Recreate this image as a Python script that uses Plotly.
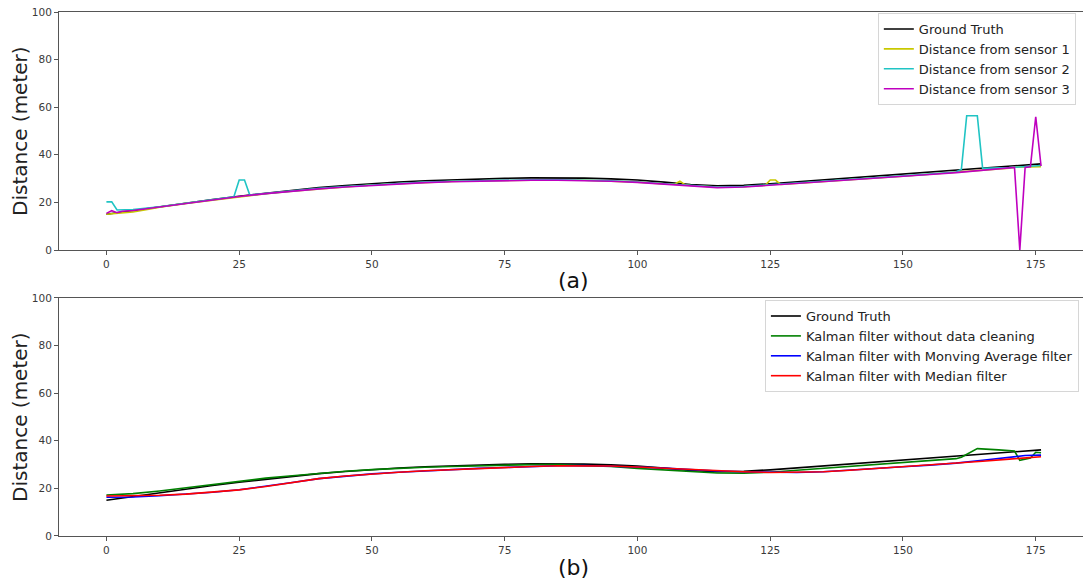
import plotly.graph_objects as go

# ---------------- data ----------------
gt_x = [0, 5, 10, 15, 20, 25, 30, 35, 40, 45, 50, 55, 60, 65, 70, 75, 80, 85, 90, 95,
        100, 105, 110, 115, 120, 125, 130, 135, 140, 145, 150, 155, 160, 165, 170, 176]
gt_y = [15.0, 16.6, 18.2, 19.8, 21.2, 22.6, 23.9, 25.1, 26.2, 27.1, 27.9, 28.6, 29.1, 29.5,
        29.9, 30.1, 30.3, 30.3, 30.2, 29.9, 29.4, 28.5, 27.5, 27.0, 27.2, 27.8, 28.6, 29.4,
        30.2, 31.0, 31.8, 32.6, 33.5, 34.3, 35.2, 36.2]

s1_x = [0, 2, 5, 8, 10, 15, 20, 25, 30, 35, 40, 45, 50, 55, 60, 65, 70, 75, 80, 85, 90,
        95, 100, 105, 107, 108, 109, 110, 115, 120, 124, 125, 126, 127, 130, 135, 140, 145,
        150, 155, 160, 165, 170, 171, 176]
s1_y = [15.0, 15.4, 16.0, 17.1, 18.0, 19.6, 21.0, 22.4, 23.6, 24.7, 25.7, 26.5, 27.3, 27.9,
        28.4, 28.8, 29.1, 29.3, 29.4, 29.4, 29.3, 29.0, 28.5, 27.8, 27.6, 28.9, 27.4, 27.1,
        26.4, 26.6, 27.1, 29.4, 29.4, 27.5, 28.0, 28.8, 29.5, 30.3, 31.0, 31.8, 32.7, 33.5,
        34.4, 34.8, 35.0]

s2_x = [0, 1, 2, 5, 10, 15, 20, 24, 25, 26, 27, 30, 35, 40, 45, 50, 55, 60, 65, 70, 75,
        80, 85, 90, 95, 100, 105, 110, 115, 120, 125, 130, 135, 140, 145, 150, 155, 160,
        161, 162, 164, 165, 170, 176]
s2_y = [20.2, 20.2, 16.8, 17.0, 18.2, 19.8, 21.2, 22.4, 29.4, 29.4, 23.1, 23.8, 24.9, 25.9,
        26.7, 27.4, 28.0, 28.5, 28.9, 29.2, 29.4, 29.5, 29.5, 29.4, 29.1, 28.6, 27.9, 27.0,
        26.5, 26.7, 27.4, 28.1, 28.9, 29.6, 30.4, 31.1, 31.9, 32.8, 33.9, 56.4, 56.4, 34.3,
        34.6, 35.5]

s3_x = [0, 1, 2, 3, 5, 10, 15, 20, 25, 30, 35, 40, 45, 50, 55, 60, 65, 70, 75, 80, 85, 90,
        95, 100, 105, 110, 115, 120, 125, 130, 135, 140, 145, 150, 155, 160, 165, 170, 171,
        172, 173, 174, 175, 176]
s3_y = [15.4, 16.5, 15.7, 16.3, 16.6, 18.1, 19.7, 21.1, 22.5, 23.7, 24.8, 25.7, 26.5, 27.2,
        27.8, 28.3, 28.7, 29.0, 29.2, 29.3, 29.3, 29.2, 28.9, 28.4, 27.7, 26.8, 26.2, 26.5,
        27.2, 27.9, 28.7, 29.4, 30.2, 30.9, 31.7, 32.5, 33.4, 34.3, 34.7, 0.0, 34.7, 35.0,
        56.0, 35.3]

kf_x = [0, 5, 10, 15, 20, 25, 27, 30, 35, 40, 45, 50, 55, 60, 65, 70, 75, 80, 85, 90, 95,
        100, 105, 110, 115, 120, 125, 130, 135, 140, 145, 150, 155, 160, 161, 162, 164, 168,
        171, 172, 174, 175, 176]
kf_y = [17.2, 17.8, 18.9, 20.2, 21.6, 22.9, 23.6, 24.3, 25.3, 26.3, 27.2, 27.9, 28.5, 28.9,
        29.2, 29.5, 29.8, 30.0, 30.0, 29.7, 29.2, 28.4, 27.7, 27.0, 26.5, 26.4, 26.8, 27.6,
        28.4, 29.2, 30.0, 30.8, 31.6, 32.5, 33.1, 34.2, 36.7, 36.2, 35.7, 31.8, 32.8, 35.2,
        35.0]

ma_x = [0, 5, 10, 15, 20, 25, 30, 35, 40, 45, 50, 55, 60, 65, 70, 75, 80, 85, 90, 95, 100,
        105, 110, 115, 120, 125, 130, 135, 140, 145, 150, 155, 160, 165, 170, 173, 176]
ma_y = [16.3, 16.4, 16.9, 17.6, 18.4, 19.4, 20.8, 22.5, 24.1, 25.2, 26.1, 26.8, 27.4, 27.9,
        28.4, 28.8, 29.2, 29.5, 29.6, 29.4, 29.0, 28.5, 27.8, 27.3, 27.0, 26.7, 26.7, 27.0,
        27.6, 28.3, 29.1, 29.8, 30.6, 31.8, 33.2, 33.8, 34.0]

md_x = [0, 5, 10, 15, 20, 25, 30, 35, 40, 45, 50, 55, 60, 65, 70, 75, 80, 85, 90, 95, 100,
        105, 110, 115, 120, 125, 130, 135, 140, 145, 150, 155, 160, 165, 170, 173, 176]
md_y = [16.8, 16.8, 17.1, 17.6, 18.4, 19.4, 20.8, 22.5, 24.1, 25.2, 26.1, 26.8, 27.4, 27.9,
        28.4, 28.8, 29.2, 29.5, 29.6, 29.4, 29.0, 28.5, 27.8, 27.3, 27.0, 26.7, 26.7, 27.0,
        27.6, 28.3, 29.1, 29.8, 30.6, 31.4, 32.3, 32.8, 33.3]

x_ticks = [0, 25, 50, 75, 100, 125, 150, 175]
y_ticks = [0, 20, 40, 60, 80, 100]

# ---------------- figure ----------------
FONT = "DejaVu Sans"
LW = 1.6

fig = go.Figure()

top = [("Ground Truth", gt_x, gt_y, "#000000"),
       ("Distance from sensor 1", s1_x, s1_y, "#c8c800"),
       ("Distance from sensor 2", s2_x, s2_y, "#20c4c4"),
       ("Distance from sensor 3", s3_x, s3_y, "#bf00bf")]
for name, xs, ys, col in top:
    fig.add_trace(go.Scatter(x=xs, y=ys, mode="lines", name=name,
                             line=dict(color=col, width=LW),
                             xaxis="x", yaxis="y", legend="legend"))

bot = [("Ground Truth", gt_x, gt_y, "#000000"),
       ("Kalman filter without data cleaning", kf_x, kf_y, "#008000"),
       ("Kalman filter with Monving Average filter", ma_x, ma_y, "#0000ff"),
       ("Kalman filter with Median filter", md_x, md_y, "#ff0000")]
for name, xs, ys, col in bot:
    fig.add_trace(go.Scatter(x=xs, y=ys, mode="lines", name=name,
                             line=dict(color=col, width=LW),
                             xaxis="x2", yaxis="y2", legend="legend2"))

xrange = [-8.93, 183.9]
axis_common = dict(showgrid=False, zeroline=False, showline=True, linecolor="#555",
                   linewidth=1, ticks="outside", ticklen=4, tickcolor="#555",
                   tickfont=dict(family=FONT, size=10.5, color="#3a3a3a"))
ytitle_font = dict(family=FONT, size=20, color="#222")

fig.update_layout(
    width=1083, height=583,
    margin=dict(l=59, r=0, t=12, b=47),
    paper_bgcolor="white", plot_bgcolor="white",
    font=dict(family=FONT),
    xaxis=dict(domain=[0, 1], anchor="y", range=xrange, tickvals=x_ticks,
               mirror=True, **axis_common),
    yaxis=dict(domain=[0.5458, 1], anchor="x", range=[0, 100], tickvals=y_ticks,
               **axis_common),
    xaxis2=dict(domain=[0, 1], anchor="y2", range=xrange, tickvals=x_ticks,
                mirror=True, **axis_common),
    yaxis2=dict(domain=[0, 0.4542], anchor="x2", range=[0, 100], tickvals=y_ticks,
                **axis_common),
    legend=dict(x=0.993, y=0.998, xanchor="right", yanchor="top",
                bgcolor="rgba(255,255,255,0.9)", bordercolor="#d6d6d6", borderwidth=1,
                font=dict(family=FONT, size=13, color="#222"), tracegroupgap=0),
    legend2=dict(x=0.996, y=0.4503, xanchor="right", yanchor="top",
                 bgcolor="rgba(255,255,255,0.9)", bordercolor="#d6d6d6", borderwidth=1,
                 font=dict(family=FONT, size=13, color="#222"), tracegroupgap=0),
    annotations=[
        dict(text="Distance (meter)", x=-0.0381, y=0.7729, xref="paper", yref="paper",
             xanchor="center", yanchor="middle", textangle=-90, showarrow=False,
             font=ytitle_font),
        dict(text="Distance (meter)", x=-0.0381, y=0.2271, xref="paper", yref="paper",
             xanchor="center", yanchor="middle", textangle=-90, showarrow=False,
             font=ytitle_font),
        dict(text="(a)", x=0.502, y=0.4885, xref="paper", yref="paper",
             xanchor="center", yanchor="middle", showarrow=False,
             font=dict(family=FONT, size=22, color="#111")),
        dict(text="(b)", x=0.502, y=-0.0592, xref="paper", yref="paper",
             xanchor="center", yanchor="middle", showarrow=False,
             font=dict(family=FONT, size=22, color="#111")),
    ],
)

fig.write_html("out.html", config={"displayModeBar": False},
               post_script="document.body.style.margin='0';document.body.style.overflow='hidden';")
